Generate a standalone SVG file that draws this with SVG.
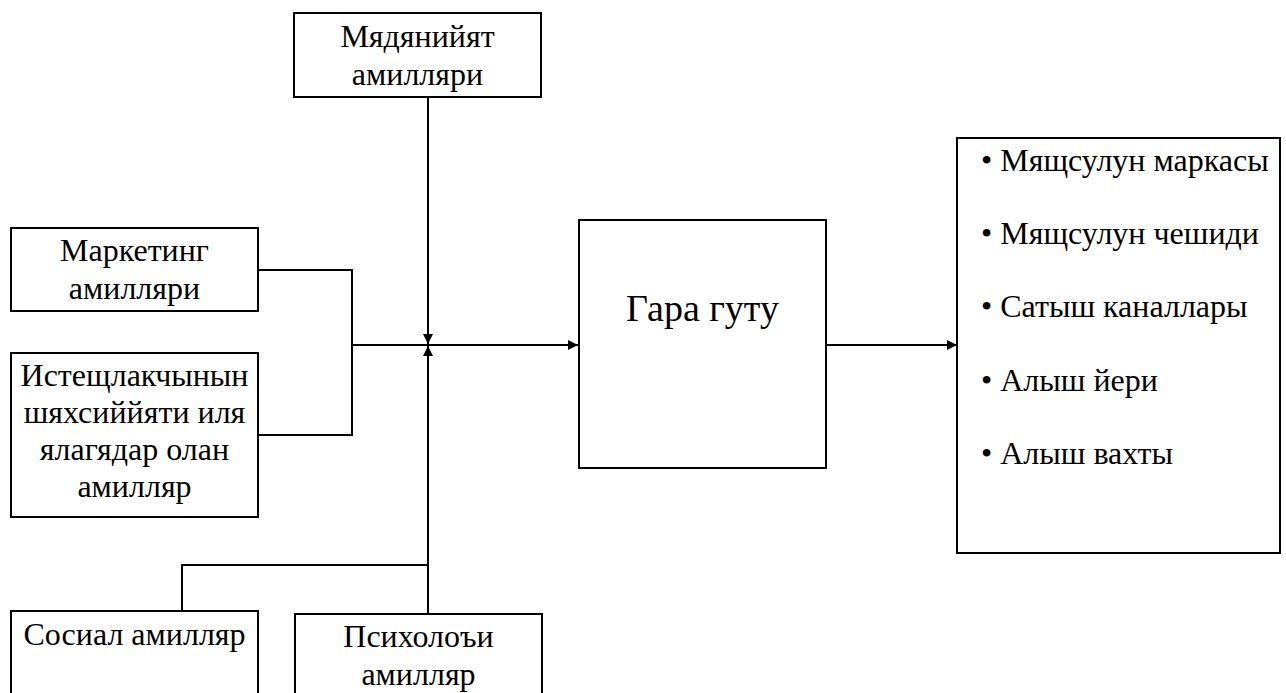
<svg xmlns="http://www.w3.org/2000/svg" width="1286" height="693" viewBox="0 0 1286 693">
<style>
.box{fill:#fff;stroke:#000;stroke-width:2}
.ln{fill:none;stroke:#000;stroke-width:2}
.t{font-size:32px;text-anchor:middle}
.li{font-size:32px}
.big{font-size:38px;text-anchor:middle}
</style>
<defs>
<marker id="ah" markerWidth="10" markerHeight="10" refX="10" refY="5" orient="auto" markerUnits="userSpaceOnUse">
<path d="M0,0 L10,5 L0,10 Z" fill="#000"/>
</marker>
</defs>
<rect width="1286" height="693" fill="#fff"/>
<g id="connectors">
<path class="ln" d="M428,97 V344" marker-end="url(#ah)"/>
<path class="ln" d="M428,614 V346" marker-end="url(#ah)"/>
<path class="ln" d="M258,270 H352 V435 H258"/>
<path class="ln" d="M352,345 H578" marker-end="url(#ah)"/>
<path class="ln" d="M182,611 V565 H428"/>
<path class="ln" d="M826,345 H957" marker-end="url(#ah)"/>
</g>
<g font-family="Liberation Serif" fill="#000">
<g id="n-culture">
<rect class="box" x="294" y="13" width="247" height="84"/>
<text class="t" x="417.5" y="47">Мядянийят</text>
<text class="t" x="417.5" y="85">амилляри</text>
</g>
<g id="n-marketing">
<rect class="box" x="11" y="228" width="247" height="83"/>
<text class="t" x="134.5" y="261">Маркетинг</text>
<text class="t" x="134.5" y="299">амилляри</text>
</g>
<g id="n-personal">
<rect class="box" x="11" y="353" width="247" height="164"/>
<text class="t" x="134.5" y="386">Истещлакчынын</text>
<text class="t" x="134.5" y="423">шяхсиййяти иля</text>
<text class="t" x="134.5" y="460">ялагядар олан</text>
<text class="t" x="134.5" y="497">амилляр</text>
</g>
<g id="n-social">
<rect class="box" x="11" y="611" width="247" height="100"/>
<text class="t" x="134.5" y="645">Сосиал амилляр</text>
</g>
<g id="n-psych">
<rect class="box" x="295" y="614" width="247" height="100"/>
<text class="t" x="418.5" y="647">Психолоъи</text>
<text class="t" x="418.5" y="685">амилляр</text>
</g>
<g id="n-blackbox">
<rect class="box" x="579" y="220" width="247" height="248"/>
<text class="big" x="702.5" y="321">Гара гуту</text>
</g>
<g id="n-results">
<rect class="box" x="957" y="138" width="323" height="415"/>
<text class="li" x="981" y="171">• Мящсулун маркасы</text>
<text class="li" x="981" y="244">• Мящсулун чешиди</text>
<text class="li" x="981" y="317">• Сатыш каналлары</text>
<text class="li" x="981" y="391">• Алыш йери</text>
<text class="li" x="981" y="464">• Алыш вахты</text>
</g>
</g>
</svg>
